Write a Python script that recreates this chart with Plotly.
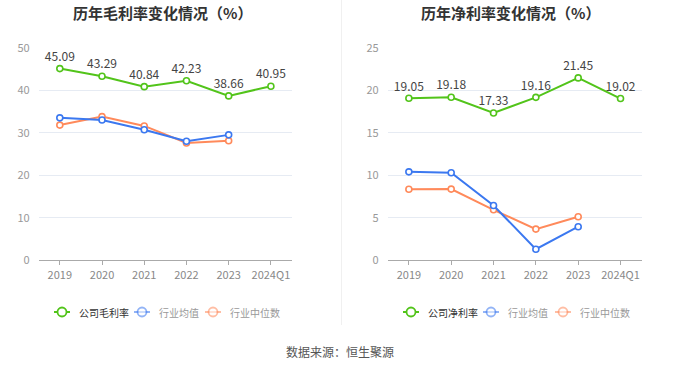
import plotly.graph_objects as go

W, H = 680, 367
FONT = "Noto Sans CJK SC"

categories = ["2019", "2020", "2021", "2022", "2023", "2024Q1"]
gross_company = [45.09, 43.29, 40.84, 42.23, 38.66, 40.95]
gross_ind_mean = [33.5, 33.0, 30.7, 28.0, 29.5]
gross_ind_median = [31.8, 33.8, 31.6, 27.6, 28.1]
net_company = [19.05, 19.18, 17.33, 19.16, 21.45, 19.02]
net_ind_mean = [10.4, 10.3, 6.45, 1.3, 3.95]
net_ind_median = [8.35, 8.37, 5.94, 3.67, 5.12]

GREEN = "#52C41A"
BLUE = "#3B78F0"
ORANGE = "#FF8A5B"

def px_x(p):
    return p / W

def px_y(p):
    return 1 - p / H

fig = go.Figure()

def add_series(x, y, color, xa, ya, labels=False):
    fig.add_trace(go.Scatter(
        x=x, y=y, xaxis=xa, yaxis=ya,
        mode="lines+markers+text" if labels else "lines+markers",
        line=dict(color=color, width=2),
        marker=dict(symbol="circle", size=6, color="white",
                    line=dict(color=color, width=1.6)),
        text=[f"{v:.2f}" for v in y] if labels else None,
        textposition="top center",
        textfont=dict(family=FONT, size=12, color="#444"),
        cliponaxis=False, showlegend=False, hoverinfo="skip",
    ))

add_series(categories[:5], gross_ind_median, ORANGE, "x", "y")
add_series(categories[:5], gross_ind_mean, BLUE, "x", "y")
add_series(categories, gross_company, GREEN, "x", "y", labels=True)
add_series(categories[:5], net_ind_median, ORANGE, "x2", "y2")
add_series(categories[:5], net_ind_mean, BLUE, "x2", "y2")
add_series(categories, net_company, GREEN, "x2", "y2", labels=True)

ydom = [px_y(260.3), px_y(47.7)]
xcommon = dict(type="category", categoryorder="array", categoryarray=categories,
               range=[-0.5, 5.5], showgrid=False, showline=True,
               linecolor="#AAAAAA", linewidth=1, ticks="outside", ticklen=4,
               tickcolor="#AAAAAA", tickfont=dict(family=FONT, size=11, color="#888"),
               zeroline=False, fixedrange=True, automargin=False)
ycommon = dict(showgrid=True, gridcolor="#E6EBF3", gridwidth=1, zeroline=False,
               showline=False, ticks="", tickfont=dict(family=FONT, size=11, color="#999"),
               domain=ydom, fixedrange=True, ticklabelstandoff=8, automargin=False)

fig.update_layout(
    width=W, height=H, autosize=False, margin=dict(l=0, r=0, t=0, b=0, pad=0),
    paper_bgcolor="white", plot_bgcolor="white",
    font=dict(family=FONT),
    xaxis=dict(domain=[px_x(38.7), px_x(292)], anchor="y", **xcommon),
    yaxis=dict(range=[0, 50], dtick=10, anchor="x", **ycommon),
    xaxis2=dict(domain=[px_x(387.7), px_x(641.7)], anchor="y2", **xcommon),
    yaxis2=dict(range=[0, 25], dtick=5, anchor="x2", **ycommon),
    showlegend=False,
    hovermode=False,
)

ann = []
shapes = []

def text_at(txt, x, y, size, color, xanchor="center"):
    ann.append(dict(text=txt, x=px_x(x), y=px_y(y), xref="paper", yref="paper",
                    xanchor=xanchor, yanchor="middle", showarrow=False,
                    font=dict(family=FONT, size=size, color=color)))

# titles
text_at("<b>历年毛利率变化情况（%）</b>", 162, 12, 15, "#333")
text_at("<b>历年净利率变化情况（%）</b>", 510, 12, 15, "#333")
# separator
shapes.append(dict(type="line", xref="paper", yref="paper",
                   x0=px_x(341.5), x1=px_x(341.5), y0=px_y(0), y1=px_y(325),
                   line=dict(color="#F0F0F0", width=1)))
# source
text_at("数据来源：恒生聚源", 340, 351, 12, "#555")

# legends
def legend_item(cx, label, color, text_color, opacity=1.0):
    ly = 312
    shapes.append(dict(type="line", xref="paper", yref="paper",
                       x0=px_x(cx - 8), x1=px_x(cx + 8), y0=px_y(ly), y1=px_y(ly),
                       line=dict(color=color, width=2), opacity=opacity))
    shapes.append(dict(type="circle", xref="paper", yref="paper",
                       x0=px_x(cx - 4.5), x1=px_x(cx + 4.5), y0=px_y(ly - 4.5), y1=px_y(ly + 4.5),
                       line=dict(color=color, width=1.8), fillcolor="white", opacity=opacity))
    text_at(label, cx + 15, ly, 10, text_color, xanchor="left")

legend_item(62, "公司毛利率", GREEN, "#333")
legend_item(142, "行业均值", BLUE, "#999", 0.55)
legend_item(213, "行业中位数", ORANGE, "#999", 0.55)
legend_item(411, "公司净利率", GREEN, "#333")
legend_item(491, "行业均值", BLUE, "#999", 0.55)
legend_item(563, "行业中位数", ORANGE, "#999", 0.55)

fig.update_layout(annotations=ann, shapes=shapes)
fig.write_html("out.html", config={"displayModeBar": False},
               post_script="document.body.style.margin='0px';")
